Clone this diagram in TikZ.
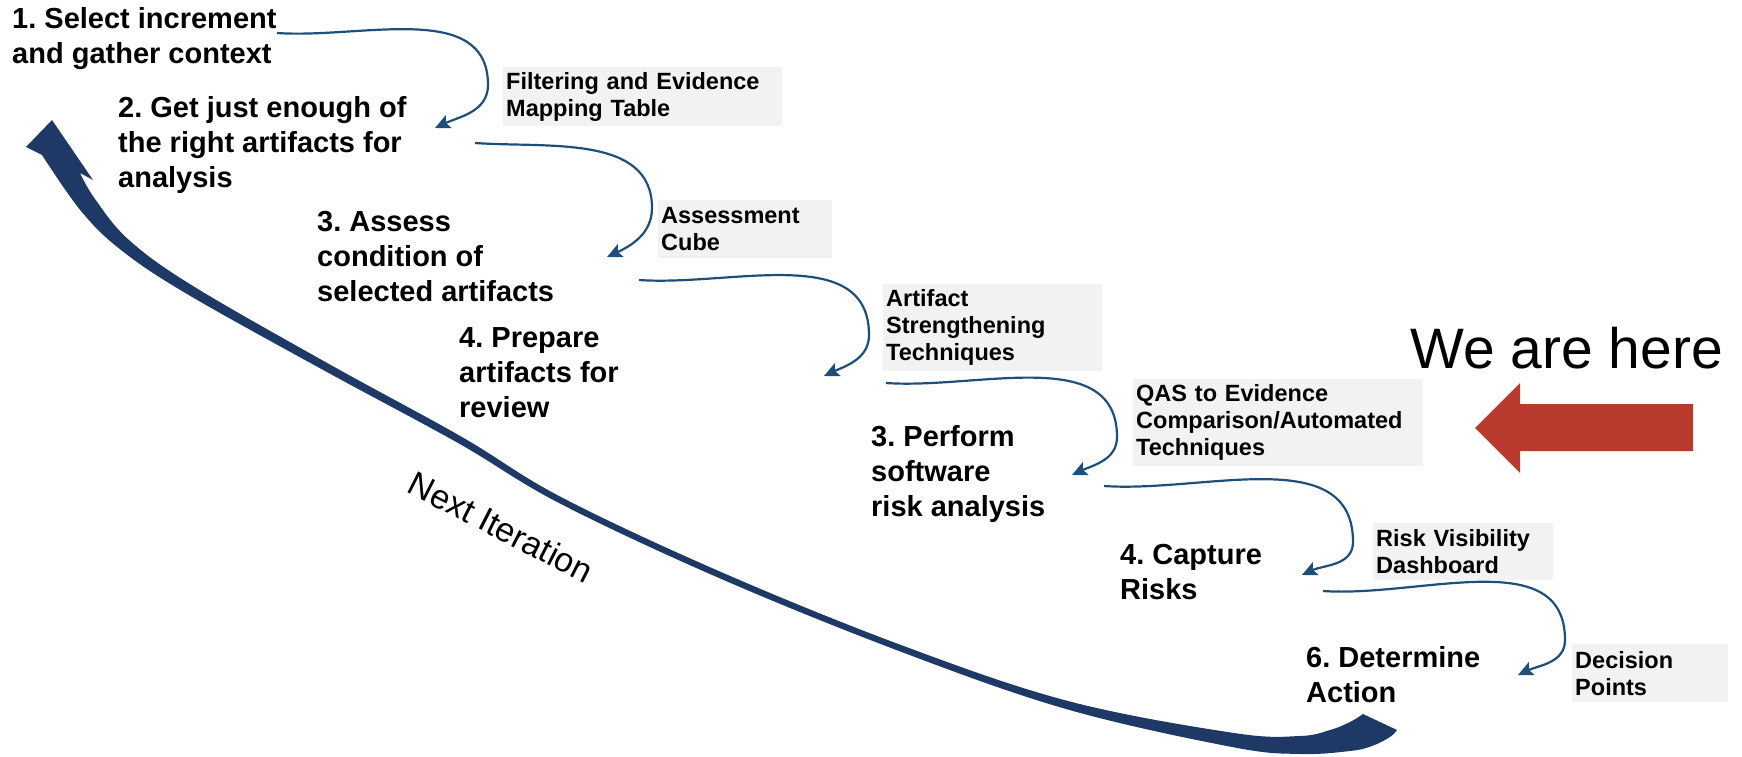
\documentclass[tikz,border=0pt]{standalone}
\usepackage{fontspec}
\setmainfont{Liberation Sans}
\usetikzlibrary{arrows.meta}
\definecolor{flowblue}{RGB}{31,78,121}
\definecolor{iterblue}{RGB}{30,57,102}
\definecolor{herered}{RGB}{184,57,45}
\definecolor{toolgray}{RGB}{242,242,242}
\frenchspacing
\begin{document}
\begin{tikzpicture}[x=1pt,y=1pt,
stage/.style={anchor=north west,inner sep=0pt,align=left,font=\bfseries\fontsize{29}{35}\selectfont},
tool/.style={anchor=north west,fill=toolgray,inner xsep=3pt,inner ysep=0pt,align=left,font=\bfseries\fontsize{23.5}{27}\selectfont},
flow/.style={draw=flowblue,line width=2.2pt,-{Stealth[length=15pt,width=14pt,inset=3pt]}}]
\useasboundingbox(0,0)rectangle(1742,-757);
% steps
\node[stage](s1)at(12,-7){1. Select increment\\and gather context};
\node[stage](s2)at(118,-96){2. Get just enough of\\the right artifacts for\\analysis};
\node[stage](s3)at(317,-211){3. Assess\\condition of\\selected artifacts};
\node[stage](s4)at(459,-327){4. Prepare\\artifacts for\\review};
\node[stage](s5)at(871,-425){3. Perform\\software\\risk analysis};
\node[stage](s6)at(1120,-544){4. Capture\\Risks};
\node[stage](s7)at(1306,-646){6. Determine\\Action};
% tools
\node[tool,text width=273pt,minimum height=59pt](t1)at(503,-67){Filtering and Evidence\\Mapping Table};
\node[tool,text width=168pt,minimum height=58pt](t2)at(658,-200){Assessment\\Cube};
\node[tool,text width=213pt,minimum height=87pt](t3)at(883,-284){Artifact\\Strengthening\\Techniques};
\node[tool,text width=284pt,minimum height=87pt](t4)at(1133,-379){QAS to Evidence\\Comparison/Automated\\Techniques};
\node[tool,text width=174pt,minimum height=57pt](t5)at(1373,-523){Risk Visibility\\Dashboard};
\node[tool,text width=150pt,minimum height=58pt](t6)at(1572,-644){Decision\\Points};
% connectors
\coordinate(c1a)at(277,-33);\coordinate(c1m)at(488,-85);\coordinate(c1b)at(435,-128);
\coordinate(c2a)at(475,-143);\coordinate(c2m)at(652,-208);\coordinate(c2b)at(607,-257);
\coordinate(c3a)at(639,-280);\coordinate(c3m)at(869,-335);\coordinate(c3b)at(824,-376);
\coordinate(c4a)at(886,-383);\coordinate(c4m)at(1117,-437);\coordinate(c4b)at(1072,-475);
\coordinate(c5a)at(1104,-486);\coordinate(c5m)at(1353,-542);\coordinate(c5b)at(1302,-575);
\coordinate(c6a)at(1323,-591);\coordinate(c6m)at(1565,-640);\coordinate(c6b)at(1518,-675);
\foreach \i in {1,...,6}{\draw[flow](c\i a)to[out=-4,in=90](c\i m)to[out=-90,in=25](c\i b);}
% next iteration arrow
\fill[iterblue](52,-120)--(93,-180)--(80,-173)
 --plot[smooth,tension=.6]coordinates{(80,-173)(95,-199)(129,-240)(193,-286)(329,-364)(462,-437)(561,-497)(721,-572)(901,-645)(1068,-701)(1234,-733)(1300,-736)(1330,-730)(1350,-722)(1363,-714)}
 --(1397,-730)
 --plot[smooth,tension=.6]coordinates{(1397,-730)(1390,-737)(1372,-746)(1350,-751)(1300,-754)(1232,-747)(1066,-709)(899,-651)(719,-578)(559,-503)(458,-443)(325,-371)(187,-294)(121,-250)(81,-211)(42,-155)}
 --(26,-147)--cycle;
\node[rotate=-27,font=\fontsize{34}{40}\selectfont](nxt)at(501,-527){Next Iteration};
% we are here
\node[anchor=base west,inner sep=0pt,font=\fontsize{57}{64}\selectfont](here)at(1410,-368){We are here};
\fill[herered](1475,-428)--(1520,-383)--(1520,-404)--(1693,-404)--(1693,-451)--(1520,-451)--(1520,-473)--cycle;
\end{tikzpicture}
\end{document}
